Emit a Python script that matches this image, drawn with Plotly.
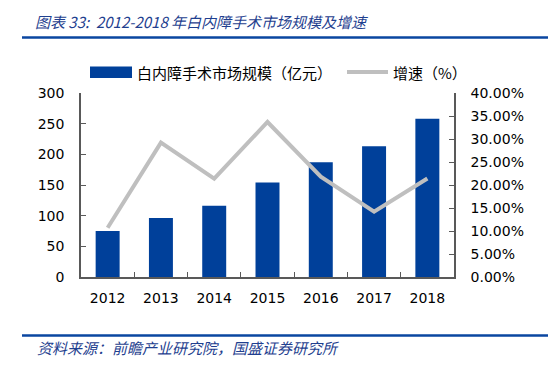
import plotly.graph_objects as go

years = ["2012", "2013", "2014", "2015", "2016", "2017", "2018"]
market_size = [75, 96, 116, 154, 187, 213, 258]          # 亿元
growth_pct = [10.7, 29.2, 21.4, 33.7, 21.8, 14.2, 21.4]   # %

title_text = "图表 33:  2012-2018 年白内障手术市场规模及增速"
source_text = "资料来源：前瞻产业研究院，国盛证券研究所"
legend_bar = "白内障手术市场规模（亿元）"
legend_line = "增速（%）"

W, H = 548, 369
L, R, T, B = 81, 454, 93, 277  # plot area in pixels

def px(x):
    return (x - L) / (R - L)

def py(y):
    return (B - y) / (B - T)

BLUE = "#00409A"
GRAY = "#BFBFBF"
AXIS = "#595959"
CJK = "Noto Sans CJK SC"

fig = go.Figure()
fig.add_trace(go.Bar(x=years, y=market_size, marker_color=BLUE, marker_line_width=0,
                     name=legend_bar, showlegend=False))
fig.add_trace(go.Scatter(x=years, y=growth_pct, mode="lines", yaxis="y2",
                         line=dict(color=GRAY, width=4), name=legend_line, showlegend=False))

axfont = dict(family="DejaVu Sans", size=14, color="#000000")
fig.update_layout(
    width=W, height=H,
    margin=dict(l=L, r=W - R, t=T, b=H - B, pad=0),
    paper_bgcolor="white", plot_bgcolor="white",
    bargap=0.55,
    xaxis=dict(showline=True, linecolor=AXIS, linewidth=1.5, ticks="inside", ticklen=5,
               tickcolor=AXIS, tickson="boundaries", tickfont=axfont, showgrid=False,
               ticklabelstandoff=7),
    yaxis=dict(range=[0, 300], dtick=50, showline=True, linecolor=AXIS, linewidth=1.5,
               ticks="inside", ticklen=5, tickcolor=AXIS, tickfont=axfont, showgrid=False,
               zeroline=False, ticklabelstandoff=12),
    yaxis2=dict(range=[0, 40], dtick=5, overlaying="y", side="right", showline=True,
                linecolor=AXIS, linewidth=1.5, ticks="inside", ticklen=5, tickcolor=AXIS,
                tickfont=axfont, showgrid=False, zeroline=False, ticksuffix="%",
                tickformat=".2f", ticklabelstandoff=12),
)

shapes = [
    dict(type="line", xref="paper", yref="paper", x0=px(22), x1=px(548), y0=py(37.5), y1=py(37.5),
         line=dict(color="#0A46A0", width=2.5)),
    dict(type="line", xref="paper", yref="paper", x0=px(22), x1=px(548), y0=py(335.5), y1=py(335.5),
         line=dict(color="#0A46A0", width=2.5)),
    dict(type="rect", xref="paper", yref="paper", x0=px(90), x1=px(132), y0=py(78), y1=py(66.5),
         fillcolor=BLUE, line=dict(width=0)),
    dict(type="line", xref="paper", yref="paper", x0=px(347), x1=px(388), y0=py(72), y1=py(72),
         line=dict(color=GRAY, width=4)),
]
fig.update_layout(shapes=shapes)

annotations = [
    dict(text=title_text, x=px(33), y=py(21), xref="paper", yref="paper", xanchor="left",
         yanchor="middle", showarrow=False,
         font=dict(family=CJK, size=15, color="#1F3F8F", style="italic")),
    dict(text=source_text, x=px(35), y=py(347), xref="paper", yref="paper", xanchor="left",
         yanchor="middle", showarrow=False,
         font=dict(family=CJK, size=15, color="#1F3F8F", style="italic")),
    dict(text=legend_bar, x=px(135), y=py(72), xref="paper", yref="paper", xanchor="left",
         yanchor="middle", showarrow=False, font=dict(family=CJK, size=15, color="#000000")),
    dict(text=legend_line, x=px(391), y=py(72), xref="paper", yref="paper", xanchor="left",
         yanchor="middle", showarrow=False, font=dict(family=CJK, size=15, color="#000000")),
]
fig.update_layout(annotations=annotations)

fig.write_html("out.html", config={"displayModeBar": False},
               post_script="document.body.style.margin='0';document.body.style.overflow='hidden';")
